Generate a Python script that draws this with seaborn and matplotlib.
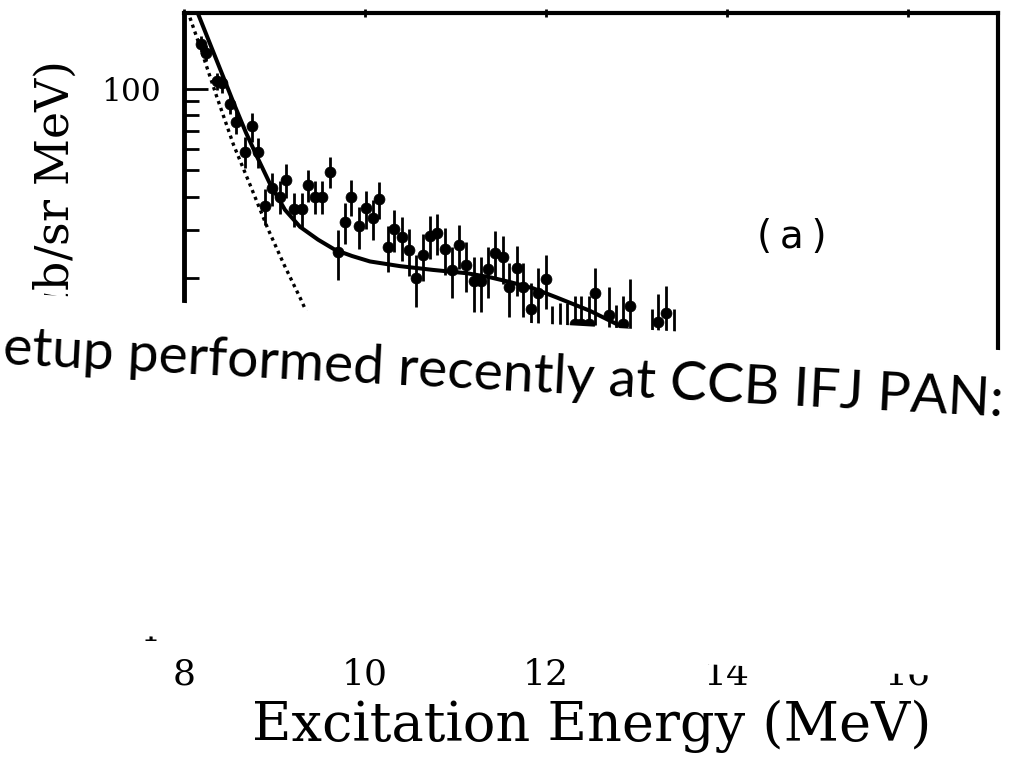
import matplotlib
matplotlib.use("Agg")
import matplotlib.pyplot as plt
from matplotlib.patches import Polygon
from matplotlib.ticker import FixedLocator, FixedFormatter, NullFormatter
import seaborn as sns

# measured spectrum: excitation energy (MeV), cross section (ub/sr MeV), error
energy = [8.19, 8.24, 8.36, 8.42, 8.51, 8.58, 8.75, 8.67, 8.82, 8.90,
          8.97, 9.06, 9.13, 9.21, 9.30, 9.37, 9.45, 9.53, 9.61, 9.70,
          9.78, 9.85, 9.93, 10.01, 10.09, 10.16, 10.25, 10.32, 10.41, 10.49,
          10.56, 10.64, 10.72, 10.80, 10.88, 10.96, 11.04, 11.12, 11.20, 11.28,
          11.36, 11.44, 11.52, 11.59, 11.68, 11.75, 11.83, 11.91, 12.00, 12.07,
          12.15, 12.23, 12.32, 12.39, 12.47, 12.54, 12.70, 12.77, 12.85, 12.93,
          13.17, 13.24, 13.33, 13.41]
cross_section = [147, 136, 107, 105, 88, 75.7, 72.7, 58.7, 58.3, 37.0,
                 43.0, 40.0, 46.1, 36.0, 36.0, 44.2, 40.0, 40.0, 49.4, 24.9,
                 32.2, 40.0, 31.0, 36.2, 33.2, 39.1, 26.1, 30.3, 28.3, 25.3,
                 20.0, 24.3, 28.6, 29.4, 25.5, 21.4, 26.5, 22.4, 19.4, 19.4,
                 21.5, 24.8, 23.8, 18.5, 21.7, 18.5, 15.3, 17.6, 19.8, 12.3,
                 12.6, 12.6, 13.5, 13.5, 13.5, 17.6, 14.6, 12.3, 13.5, 15.8,
                 11.8, 13.7, 14.8, 11.8]
cross_section_err = [10, 9, 8, 8, 7.5, 7.5, 9, 7.5, 7.5, 5.6,
                     6, 5.5, 6.5, 5.2, 5.2, 6, 5.5, 5.5, 6.5, 5.2,
                     5.5, 6, 5.5, 5.8, 5.5, 6, 5, 5.3, 5.2, 5,
                     4.4, 4.8, 5.2, 5.2, 5, 4.6, 5, 4.7, 4.4, 4.4,
                     4.6, 4.9, 4.8, 4.2, 4.6, 4.2, 3.8, 4.1, 4.4, 3.5,
                     3.6, 3.6, 3.7, 3.7, 3.7, 4.2, 3.9, 3.6, 3.7, 4.0,
                     3.6, 3.8, 3.9, 3.6]

# total fit (solid) and steep low-energy component (dotted)
fit_energy = [8.155, 8.287, 8.420, 8.552, 8.685, 8.818, 8.950, 9.116, 9.282,
              9.481, 9.669, 9.856, 10.055, 10.387, 10.751, 11.127, 11.381,
              11.602, 11.856, 12.122, 12.486, 12.818, 13.149, 13.70]
fit_total = [190.0, 147.2, 113.9, 88.2, 68.9, 55.2, 44.6, 35.7, 30.9,
             27.7, 25.4, 24.1, 23.0, 22.1, 21.4, 20.8, 20.1,
             19.3, 18.3, 16.9, 15.1, 13.3, 11.6, 9.5]
comp_energy = [8.066, 8.177, 8.361, 8.547, 8.735, 8.923, 9.105, 9.293, 9.392,
               9.613, 9.834]
comp_value = [183.7, 143.4, 93.9, 62.2, 43.8, 30.6, 22.4, 16.6, 14.0,
              9.94, 7.07]

x_ticks = [8, 10, 12, 14, 16]
x_tick_labels = ["8", "10", "12", "14", "16"]
y_ticks = [1, 10, 100]
y_tick_labels = ["1", "10", "100"]
y_minor = [2, 3, 4, 5, 6, 7, 8, 9, 20, 30, 40, 50, 60, 70, 80, 90]

panel_tag = "(\u2009a\u2009)"
x_title = "Excitation Energy (MeV)"
y_title = r"d$^2\sigma$/d$\Omega$dE ($\mu$b/sr MeV)"
banner = "etup performed recently at CCB IFJ PAN:"

sns.set_theme(style="white")
plt.rcParams["font.family"] = ["DejaVu Serif"]
plt.rcParams["mathtext.fontset"] = "dejavuserif"

W, H = 1015, 764
fig = plt.figure(figsize=(W / 100, H / 100), dpi=100)
fig.patch.set_facecolor("white")

left_px, right_px, top_px, bottom_px = 184.0, 998.5, 12.7, 629.3
ax = fig.add_axes([left_px / W, 1 - bottom_px / H,
                   (right_px - left_px) / W, (bottom_px - top_px) / H])
ax.set_facecolor("white")
ax.set_yscale("log")
ax.set_xlim(8, 17)
ax.set_ylim(1, 191.7)

ax.errorbar(energy, cross_section, yerr=cross_section_err, fmt="none",
            ecolor="black", elinewidth=2.0, capsize=0, zorder=3)
sns.scatterplot(x=energy, y=cross_section, color="black", s=62,
                edgecolor="black", linewidth=0.5, ax=ax, zorder=4)
sns.lineplot(x=fit_energy, y=fit_total, sort=False, estimator=None,
             color="black", linewidth=2.9, ax=ax, zorder=5)
sns.lineplot(x=comp_energy, y=comp_value, sort=False, estimator=None,
             color="black", linewidth=2.4, linestyle=(0, (1.0, 1.2)),
             ax=ax, zorder=5)

for side, lw in [("top", 3.0), ("left", 3.5), ("right", 3.0)]:
    ax.spines[side].set_visible(True)
    ax.spines[side].set_color("black")
    ax.spines[side].set_linewidth(lw)
ax.spines["bottom"].set_visible(False)

ax.xaxis.set_major_locator(FixedLocator(x_ticks))
ax.xaxis.set_major_formatter(FixedFormatter(x_tick_labels))
ax.tick_params(axis="x", which="major", bottom=True, top=True,
               direction="inout", length=6, width=2.0, color="black",
               pad=17.5, labelsize=26, labelcolor="black")
ax.tick_params(axis="x", which="minor", bottom=False, top=False)

ax.yaxis.set_major_locator(FixedLocator(y_ticks))
ax.yaxis.set_major_formatter(FixedFormatter(y_tick_labels))
ax.yaxis.set_minor_locator(FixedLocator(y_minor))
ax.yaxis.set_minor_formatter(NullFormatter())
ax.tick_params(axis="y", which="major", left=True, right=False,
               direction="in", length=17, width=2.0, color="black",
               pad=17, labelsize=22.5, labelcolor="black")
ax.tick_params(axis="y", which="minor", left=True, right=False,
               direction="in", length=11, width=2.0, color="black")

ax.set_xlabel(x_title, fontsize=39, color="black", labelpad=6)
ax.set_ylabel(y_title, fontsize=33, color="black",
              ha="right", va="bottom", rotation_mode="anchor")
ax.yaxis.set_label_coords((82 - left_px) / (right_px - left_px),
                          (bottom_px - 62) / (bottom_px - top_px))

ax.text((792 - left_px) / (right_px - left_px),
        (bottom_px - 237) / (bottom_px - top_px), panel_tag,
        transform=ax.transAxes, ha="center", va="center",
        fontsize=28, family="DejaVu Sans", color="black")


def fig_xy(px, py):
    return (px / W, 1 - py / H)


# white band laid across the lower part of the panel
top_slope, bottom_slope = 0.0578, 0.050
band = [fig_xy(-10, 303 + top_slope * (-10 - 185)),
        fig_xy(W + 10, 303 + top_slope * (W + 10 - 185)),
        fig_xy(W + 10, 638 + bottom_slope * (W + 10 - 182)),
        fig_xy(-10, 638 + bottom_slope * (-10 - 182))]
fig.add_artist(Polygon(band, closed=True, facecolor="white", edgecolor="none",
                       transform=fig.transFigure, zorder=10))

fig.text(2 / W, 1 - 364 / H, banner, family=["Lato", "DejaVu Sans"],
         fontsize=39.8, color="black", rotation=-3.0, rotation_mode="anchor",
         ha="left", va="baseline", zorder=11)

fig.savefig("out.png", dpi=100, facecolor="white")
